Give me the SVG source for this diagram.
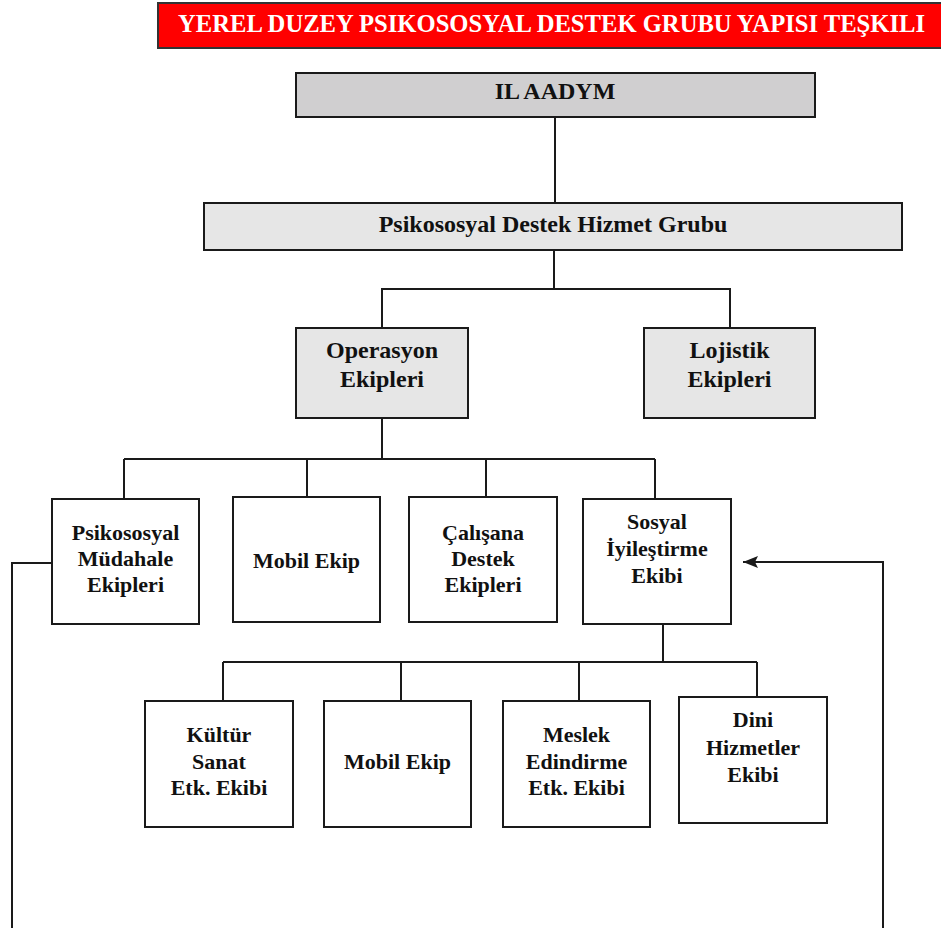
<svg xmlns="http://www.w3.org/2000/svg" width="941" height="928" viewBox="0 0 941 928">
<defs>
<style>
.bx{stroke:#1a1a1a;stroke-width:2}
.w{fill:#ffffff}
.g1{fill:#d0cfd0}
.g2{fill:#e6e6e6}
.t{font-family:"Liberation Serif","Times New Roman",serif;font-weight:bold;fill:#111;text-anchor:middle}
.t24{font-size:24px}
.t22{font-size:22px}
.ln{stroke:#1a1a1a;stroke-width:2;fill:none}
</style>
<marker id="ah" viewBox="0 0 15 12" refX="15" refY="6" markerWidth="15" markerHeight="12" markerUnits="userSpaceOnUse" orient="auto">
<path d="M0,0 L15,6 L0,12 L3,6 z" fill="#1a1a1a"/>
</marker>
</defs>
<rect width="941" height="928" fill="#ffffff"/>

<g id="title">
<rect x="158" y="3" width="800" height="45" fill="#ff0000" stroke="#333" stroke-width="2"/>
<text x="551.5" y="32" font-family="Liberation Serif,'Times New Roman',serif" font-weight="bold" font-size="25" fill="#ffffff" text-anchor="middle" textLength="747" lengthAdjust="spacingAndGlyphs">YEREL DUZEY PSIKOSOSYAL DESTEK GRUBU YAPISI TEŞKILI</text>
</g>

<g id="connectors">
<path class="ln" d="M555,117 V203"/>
<path class="ln" d="M554,250 V289 M381,289 H731 M382,289 V328 M730,289 V328"/>
<path class="ln" d="M382,418 V459 M124,459 H655 M124,459 V498 M307,459 V497 M486,459 V497 M655,459 V499"/>
<path class="ln" d="M663,624 V662 M223,662 H757 M223,662 V701 M401,662 V701 M579,662 V701 M757,662 V697"/>
<path class="ln" d="M52,563 H12 V928"/>
<path class="ln" d="M883,928 V562 H743" marker-end="url(#ah)"/>
</g>

<g id="il-aadym">
<rect class="bx g1" x="296" y="73" width="519" height="44"/>
<text class="t t24" x="555" y="99">IL AADYM</text>
</g>

<g id="psikososyal-destek-hizmet-grubu">
<rect class="bx g2" x="204" y="203" width="698" height="47"/>
<text class="t t24" x="553" y="232">Psikososyal Destek Hizmet Grubu</text>
</g>

<g id="operasyon-ekipleri">
<rect class="bx g2" x="296" y="328" width="172" height="90"/>
<text class="t t24" x="382" y="358">Operasyon</text>
<text class="t t24" x="382" y="387">Ekipleri</text>
</g>

<g id="lojistik-ekipleri">
<rect class="bx g2" x="644" y="328" width="171" height="90"/>
<text class="t t24" x="729.5" y="358">Lojistik</text>
<text class="t t24" x="729.5" y="387">Ekipleri</text>
</g>

<g id="psikososyal-mudahale-ekipleri">
<rect class="bx w" x="52" y="499" width="147" height="125"/>
<text class="t t22" x="125.5" y="540">Psikososyal</text>
<text class="t t22" x="125.5" y="566">Müdahale</text>
<text class="t t22" x="125.5" y="592">Ekipleri</text>
</g>

<g id="mobil-ekip-1">
<rect class="bx w" x="233" y="497" width="147" height="125"/>
<text class="t t22" x="306.5" y="568">Mobil Ekip</text>
</g>

<g id="calisana-destek-ekipleri">
<rect class="bx w" x="409" y="497" width="148" height="125"/>
<text class="t t22" x="483" y="540">Çalışana</text>
<text class="t t22" x="483" y="566">Destek</text>
<text class="t t22" x="483" y="592">Ekipleri</text>
</g>

<g id="sosyal-iyilestirme-ekibi">
<rect class="bx w" x="583" y="499" width="148" height="125"/>
<text class="t t22" x="657" y="529">Sosyal</text>
<text class="t t22" x="657" y="556">İyileştirme</text>
<text class="t t22" x="657" y="583">Ekibi</text>
</g>

<g id="kultur-sanat-etk-ekibi">
<rect class="bx w" x="145" y="701" width="148" height="126"/>
<text class="t t22" x="219" y="742">Kültür</text>
<text class="t t22" x="219" y="769">Sanat</text>
<text class="t t22" x="219" y="795">Etk. Ekibi</text>
</g>

<g id="mobil-ekip-2">
<rect class="bx w" x="324" y="701" width="147" height="126"/>
<text class="t t22" x="397.5" y="769">Mobil Ekip</text>
</g>

<g id="meslek-edindirme-etk-ekibi">
<rect class="bx w" x="503" y="701" width="147" height="126"/>
<text class="t t22" x="576.5" y="742">Meslek</text>
<text class="t t22" x="576.5" y="769">Edindirme</text>
<text class="t t22" x="576.5" y="795">Etk. Ekibi</text>
</g>

<g id="dini-hizmetler-ekibi">
<rect class="bx w" x="679" y="697" width="148" height="126"/>
<text class="t t22" x="753" y="727">Dini</text>
<text class="t t22" x="753" y="755">Hizmetler</text>
<text class="t t22" x="753" y="782">Ekibi</text>
</g>
</svg>
